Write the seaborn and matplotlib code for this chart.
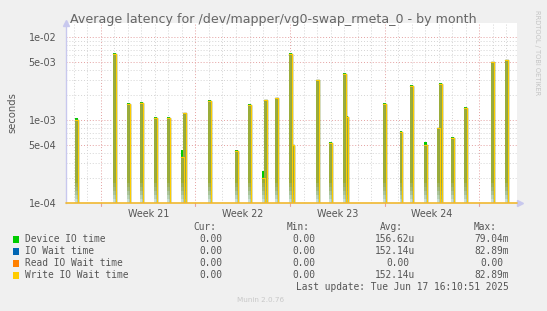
import numpy as np
import pandas as pd
import matplotlib
matplotlib.use("Agg")
import matplotlib.pyplot as plt
import seaborn as sns
from matplotlib.ticker import FixedLocator, NullFormatter, NullLocator

sns.set_theme(style="white")
plt.rcParams["font.family"] = ["DejaVu Sans"]

# ---------------- data (days since start of Week 21) ----------------
spike_days = [-1.68, 1.11, 2.15, 3.13, 4.13, 5.13, 6.15, 6.32, 8.13, 10.13,
              11.13, 12.15, 12.32, 13.13, 14.13, 14.32, 16.15, 17.13, 18.13, 18.32,
              21.13, 22.32, 23.13, 24.13, 25.13, 25.28, 26.15, 27.10, 29.13, 30.12]
device_io = [1.05e-3, 6.5e-3, 1.62e-3, 1.66e-3, 1.10e-3, 1.09e-3, 4.4e-4, 1.22e-3, 1.72e-3, 4.4e-4,
             1.58e-3, 2.45e-4, 1.75e-3, 1.86e-3, 6.5e-3, 5.0e-4, 3.05e-3, 5.5e-4, 3.7e-3, 1.13e-3,
             1.62e-3, 7.4e-4, 2.65e-3, 5.4e-4, 8.1e-4, 2.8e-3, 6.3e-4, 1.42e-3, 5.0e-3, 5.3e-3]
write_wait = [1.0e-3, 6.3e-3, 1.55e-3, 1.62e-3, 1.05e-3, 1.06e-3, 3.55e-4, 1.2e-3, 1.69e-3, 4.2e-4,
              1.53e-3, 2.0e-4, 1.73e-3, 1.83e-3, 6.2e-3, 5.0e-4, 3.0e-3, 5.3e-4, 3.55e-3, 1.1e-3,
              1.56e-3, 7.2e-4, 2.6e-3, 5.0e-4, 8.0e-4, 2.75e-3, 6.1e-4, 1.4e-3, 5.0e-3, 5.3e-3]
io_wait = list(write_wait)
read_wait = [0.0] * len(spike_days)

week_starts = [0, 7, 14, 21, 28]
week_labels = ["Week 21", "Week 22", "Week 23", "Week 24"]
x_range = (-2.59, 30.81)
y_range = (1e-4, 1.476e-2)
y_major = [1e-4, 5e-4, 1e-3, 5e-3, 1e-2]
y_major_labels = ["1e-04", "5e-04", "1e-03", "5e-03", "1e-02"]

legend_names = ["Device IO time", "IO Wait time", "Read IO Wait time", "Write IO Wait time"]
legend_colors = ["#00cc00", "#0066b3", "#ff8000", "#ffcc00"]
cur_vals = ["0.00", "0.00", "0.00", "0.00"]
min_vals = ["0.00", "0.00", "0.00", "0.00"]
avg_vals = ["156.62u", "152.14u", "0.00", "152.14u"]
max_vals = ["79.04m", "82.89m", "0.00", "82.89m"]

# ---------------- figure ----------------
W, H = 547, 311
fig = plt.figure(figsize=(W / 100, H / 100), dpi=100, facecolor="#f0f0f0")
L, R, T, B = 66, 517, 23, 203
ax = fig.add_axes([L / W, 1 - B / H, (R - L) / W, (B - T) / H])
ax.set_facecolor("white")
ax.set_yscale("log")
ax.set_xlim(*x_range)
ax.set_ylim(*y_range)

# grid
grid_red = "#e4a0a0"
grid_gray = "#d4d4d4"
dots = (0, (1, 2))
for d in np.arange(np.ceil(x_range[0]), x_range[1]):
    if d in week_starts:
        continue
    ax.axvline(d, color=grid_gray, lw=0.7, ls=dots, zorder=0)
for d in week_starts:
    ax.axvline(d, color=grid_red, lw=0.7, ls=dots, zorder=0)
for dec in [1e-4, 1e-3, 1e-2]:
    for m in range(2, 10):
        v = dec * m
        if v < y_range[1] and m != 5:
            ax.axhline(v, color=grid_gray, lw=0.7, ls=dots, zorder=0)
for v in y_major:
    ax.axhline(v, color=grid_red, lw=0.7, ls=dots, zorder=0)

# spikes
w = 0.21
base = y_range[0]
rows = []
for i, (t, dv, iv, rv, wv) in enumerate(zip(spike_days, device_io, io_wait, read_wait, write_wait)):
    for name, v in [("Device IO time", dv), ("IO Wait time", iv), ("Read IO Wait time", rv), ("Write IO Wait time", wv)]:
        if v <= base:
            continue
        rows += [(name, i, t - w, v), (name, i, t, v), (name, i, t, base)]
df = pd.DataFrame(rows, columns=["series", "spike", "x", "y"])

fade_cols = ["#c9dfd6", "#b8d3b8", "#aac49a", "#a2b97a", "#9eb35e"]
for t, dv in zip(spike_days, device_io):
    ax.fill_between([t - w, t], base, dv, color="#00cc00", lw=0, zorder=2)
for t, wv in zip(spike_days, write_wait):
    ax.fill_between([t - w, t], base, wv, color="#9aad3a", lw=0, zorder=3)
    # gradual fade toward the bottom
    for j, c in enumerate(fade_cols):
        top = base * (1.12 ** (j + 1))
        ax.fill_between([t - w, t], base * (1.12 ** j), min(wv, top), color=c, lw=0, zorder=3)

for name, col, z in [("IO Wait time", "#0066b3", 4), ("Read IO Wait time", "#ff8000", 5), ("Write IO Wait time", "#ffcc00", 6)]:
    sub = df[df.series == name]
    if len(sub):
        sns.lineplot(data=sub, x="x", y="y", units="spike", estimator=None, sort=False,
                     color=col, lw=1.0, ax=ax, zorder=z, legend=False)
ax.axhline(base, color="#f0b830", lw=1.2, zorder=6, clip_on=False)

# axes styling
for s in ["top", "right", "bottom"]:
    ax.spines[s].set_visible(False)
ax.spines["left"].set_color("#c8c8ee")
ax.spines["left"].set_linewidth(1.0)
ax.yaxis.set_major_locator(FixedLocator(y_major))
ax.yaxis.set_major_formatter(matplotlib.ticker.FixedFormatter(y_major_labels))
ax.yaxis.set_minor_locator(NullLocator())
ax.yaxis.set_minor_formatter(NullFormatter())
ax.set_xticks([ws + 3.5 for ws in week_starts[:4]])
ax.set_xticklabels(week_labels)
ax.tick_params(axis="both", length=0, colors="#555555", labelsize=6.9)
ax.tick_params(axis="y", pad=7)
ax.tick_params(axis="x", pad=4)
ax.set_xlabel("")
ax.set_ylabel("seconds", color="#555555", fontsize=7.2, labelpad=8)

# arrows
ax.plot([0], [1.0], marker="^", color="#c8c8ee", ms=4, transform=ax.transAxes, clip_on=False)
ax.plot([1.0075], [0], marker=">", color="#c8c8ee", ms=4, transform=ax.transAxes, clip_on=False)
# week tick marks below axis
for d in week_starts:
    ax.plot([d, d], [0, -0.018], color=grid_red, lw=0.8, transform=ax.get_xaxis_transform(), clip_on=False)

# title and side text
fig.text(273 / W, 1 - 19.5 / H, "Average latency for /dev/mapper/vg0-swap_rmeta_0 - by month",
         ha="center", va="center", fontsize=9.1, color="#666666")
fig.text(537 / W, 1 - 53 / H, "RRDTOOL / TOBI OETIKER", rotation=270, ha="center", va="center",
         fontsize=4.8, color="#c4c4c4")

# legend table
mono = dict(family="DejaVu Sans Mono", fontsize=6.85, color="#555555", va="center")
cw = 5.73
fig.text(216 / W, 1 - 227.5 / H, "Cur:", ha="right", **mono)
fig.text(310 / W, 1 - 227.5 / H, "Min:", ha="right", **mono)
fig.text(403 / W, 1 - 227.5 / H, "Avg:", ha="right", **mono)
fig.text(497 / W, 1 - 227.5 / H, "Max:", ha="right", **mono)


def endx(s, x_end):
    return (x_end - (0 if s[-1].isalpha() else cw)) / W


for k, (nm, col, cv, mv, av, xv) in enumerate(zip(legend_names, legend_colors, cur_vals, min_vals, avg_vals, max_vals)):
    yy = 1 - (239.5 + 12 * k) / H
    fig.patches.append(plt.Rectangle((13 / W, yy - 3.2 / H), 6 / W, 6.4 / H, transform=fig.transFigure,
                                     facecolor=col, edgecolor="none"))
    fig.text(25 / W, yy, nm, ha="left", **mono)
    fig.text(222 / W, yy, cv, ha="right", **mono)
    fig.text(315 / W, yy, mv, ha="right", **mono)
    fig.text(endx(av, 415), yy, av, ha="right", **mono)
    fig.text(endx(xv, 509), yy, xv, ha="right", **mono)
fig.text(509 / W, 1 - 287.5 / H, "Last update: Tue Jun 17 16:10:51 2025", ha="right", **mono)
fig.text(261 / W, 1 - 300.5 / H, "Munin 2.0.76", ha="center", va="center", fontsize=5.2, color="#c8c8c8")

fig.savefig("out.png", dpi=100, facecolor=fig.get_facecolor())
